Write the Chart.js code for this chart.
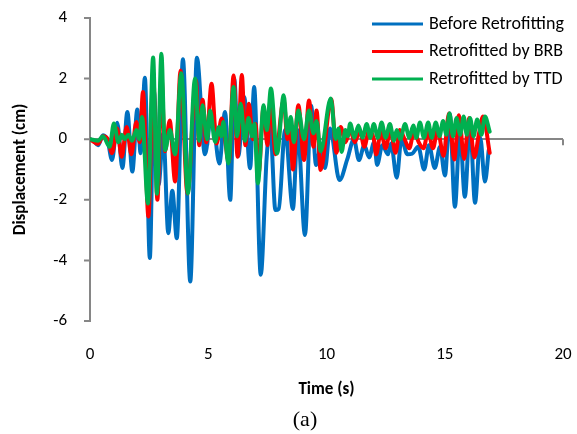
<!DOCTYPE html>
<html>
<head>
<meta charset="utf-8">
<script src="https://cdn.jsdelivr.net/npm/chart.js@4/dist/chart.umd.min.js"></script>
<style>
html,body{margin:0;padding:0;background:#ffffff;}
#c{display:block;}
</style>
</head>
<body>
<canvas id="c" width="577" height="434"></canvas>
<script>
// Time (s), displacement (cm) pairs
const beforeRetrofitting = [[0,0],[0.15,-0.05],[0.34,-0.2],[0.55,0.13],[0.75,-0.05],[0.93,-0.69],[1.15,0.54],[1.37,-0.95],[1.58,0.9],[1.79,-1.07],[2.0,0.98],[2.14,-0.46],[2.32,2.03],[2.53,-3.92],[2.7,1.6],[2.9,-1.5],[3.1,0.2],[3.31,-3.1],[3.48,-1.7],[3.67,-3.27],[3.93,2.64],[4.24,-4.7],[4.52,2.69],[4.86,-0.5],[5.15,0.9],[5.47,-0.8],[5.71,0.9],[5.93,-2.0],[6.1,2.0],[6.27,-0.55],[6.52,1.39],[6.77,-0.96],[6.94,1.72],[7.22,-4.47],[7.47,-0.6],[7.62,0.45],[7.84,-2.34],[7.98,-2.3],[8.25,0.3],[8.58,-2.3],[8.78,0.3],[9.09,-3.16],[9.35,1.1],[9.56,-0.85],[9.75,-0.3],[9.94,-0.95],[10.15,0.35],[10.55,-1.35],[10.88,-0.66],[11.16,0.0],[11.37,-0.69],[11.6,-0.2],[11.8,-0.6],[12.02,-0.09],[12.14,-0.85],[12.36,-0.2],[12.6,-0.5],[12.73,-0.14],[12.97,-1.27],[13.17,0.02],[13.42,-0.5],[13.62,-0.48],[13.88,-0.25],[14.13,-1.0],[14.33,-0.2],[14.58,-0.95],[14.8,-0.25],[15.01,-1.2],[15.21,0.85],[15.43,-2.23],[15.64,0.3],[15.85,-1.9],[16.07,0.52],[16.28,-2.1],[16.5,0.05],[16.7,-1.4],[16.86,-0.36]];

const retrofittedBRB = [[0,0],[0.34,-0.15],[0.55,0.1],[0.75,0.0],[0.93,-0.46],[1.15,0.35],[1.34,-0.58],[1.55,0.4],[1.75,-0.5],[1.96,0.57],[2.1,-0.1],[2.24,1.56],[2.47,-2.55],[2.67,2.2],[2.85,-2.0],[3.02,2.1],[3.17,-0.4],[3.37,0.62],[3.6,-1.4],[3.83,2.27],[4.12,-1.79],[4.48,1.94],[4.62,-0.2],[4.76,1.3],[4.92,-0.1],[5.14,1.83],[5.35,-0.14],[5.57,0.68],[5.87,-0.75],[6.07,2.1],[6.24,-0.58],[6.42,2.12],[6.57,-0.2],[6.72,1.17],[6.88,0.0],[7.0,0.5],[7.13,-1.13],[7.34,1.06],[7.5,-0.2],[7.63,1.3],[7.85,-0.5],[8.19,1.3],[8.35,0.0],[8.45,0.5],[8.58,-1.0],[8.81,1.12],[9.05,-0.69],[9.26,1.28],[9.45,-0.25],[9.58,0.95],[9.75,-1.02],[10.2,1.32],[10.42,-0.45],[10.6,0.4],[10.8,-0.1],[11.0,0.3],[11.2,-0.1],[11.4,0.3],[11.6,-0.25],[11.8,0.3],[12.0,0.0],[12.1,-0.5],[12.3,0.25],[12.5,-0.3],[12.7,0.3],[12.92,-0.45],[13.1,0.3],[13.3,0.0],[13.5,-0.3],[13.7,0.25],[13.9,-0.1],[14.1,-0.3],[14.3,0.25],[14.5,-0.3],[14.7,0.3],[14.95,-0.55],[15.18,0.85],[15.4,-0.67],[15.6,0.79],[15.82,-0.65],[16.03,0.7],[16.25,-0.6],[16.45,0.2],[16.62,0.75],[16.9,-0.45]];

const retrofittedTTD = [[0,0],[0.35,-0.05],[0.55,0.1],[0.83,-0.25],[1.01,0.52],[1.2,-0.1],[1.35,0.15],[1.47,0.0],[1.62,0.15],[1.78,-0.05],[1.96,0.3],[2.08,0.0],[2.2,0.73],[2.45,-2.12],[2.67,2.7],[2.83,-1.8],[3.02,2.82],[3.17,-0.36],[3.38,0.3],[3.6,-0.5],[3.86,2.18],[4.14,-1.79],[4.44,2.0],[4.62,-0.05],[4.76,1.12],[4.95,0.0],[5.08,0.95],[5.29,-0.09],[5.45,0.4],[5.55,0.1],[5.64,0.57],[5.85,-0.8],[6.07,1.72],[6.22,0.1],[6.37,1.17],[6.55,-0.05],[6.7,0.7],[6.85,0.1],[6.95,0.5],[7.1,-1.46],[7.34,1.12],[7.48,0.3],[7.65,1.67],[7.91,-0.47],[8.19,1.45],[8.35,0.2],[8.49,0.73],[8.62,-0.1],[8.81,0.95],[9.05,0.0],[9.26,0.95],[9.45,0.2],[9.58,0.6],[9.75,-0.4],[10.18,1.34],[10.39,0.0],[10.5,0.35],[10.64,-0.42],[10.8,0.3],[10.9,0.1],[11.0,0.52],[11.18,0.05],[11.35,0.45],[11.52,0.05],[11.7,0.5],[11.85,0.05],[12.0,0.5],[12.17,0.05],[12.33,0.55],[12.5,0.05],[12.68,0.5],[12.85,-0.05],[12.97,0.3],[13.12,0.0],[13.32,0.5],[13.5,0.05],[13.67,0.45],[13.8,0.05],[13.95,0.55],[14.12,0.05],[14.3,0.55],[14.45,0.05],[14.62,0.55],[14.78,0.1],[14.93,0.6],[15.07,0.15],[15.2,0.85],[15.35,0.1],[15.5,0.7],[15.65,0.15],[15.8,0.75],[15.93,0.15],[16.07,0.7],[16.22,0.1],[16.37,0.65],[16.55,0.15],[16.7,0.75],[16.9,0.25]];

const seriesLabels = ['Before Retrofitting', 'Retrofitted by BRB', 'Retrofitted by TTD'];
const seriesColors = ['#0070C0', '#FF0000', '#00B050'];
const xTicks = [0, 5, 10, 15, 20];
const yTicks = [-6, -4, -2, 0, 2, 4];
const xTitle = 'Time (s)';
const yTitle = 'Displacement (cm)';
const panelLabel = '(a)';

const FONT = 'Carlito, Calibri, Lato, sans-serif';
const AXIS_GRAY = '#868686';

const toPoints = arr => arr.map(p => ({x: p[0], y: p[1]}));

const insideLegend = {
  id: 'insideLegend',
  afterDraw(chart) {
    const ctx = chart.ctx;
    ctx.save();
    ctx.font = '18px ' + FONT;
    ctx.textBaseline = 'middle';
    ctx.textAlign = 'left';
    chart.data.datasets.forEach((ds, i) => {
      const y = 24 + i * 27.5;
      ctx.strokeStyle = ds.borderColor;
      ctx.lineWidth = 3;
      ctx.beginPath();
      ctx.moveTo(372, y);
      ctx.lineTo(423, y);
      ctx.stroke();
      ctx.fillStyle = '#000000';
      ctx.fillText(ds.label, 429, y);
    });
    ctx.font = '22px "Liberation Serif", "Times New Roman", serif';
    ctx.textAlign = 'center';
    ctx.fillText(panelLabel, 305, 420);
    ctx.restore();
  }
};

const axisTickMarks = {
  id: 'axisTickMarks',
  beforeDatasetsDraw(chart) {
    const ctx = chart.ctx;
    const xs = chart.scales.x, ys = chart.scales.y;
    const y0 = ys.getPixelForValue(0);
    const x0 = chart.chartArea.left;
    ctx.save();
    ctx.strokeStyle = AXIS_GRAY;
    ctx.lineWidth = 2;
    ctx.beginPath();
    xs.ticks.forEach(t => {
      const px = xs.getPixelForValue(t.value);
      ctx.moveTo(px, y0);
      ctx.lineTo(px, y0 + 6);
    });
    ys.ticks.forEach(t => {
      const py = ys.getPixelForValue(t.value);
      ctx.moveTo(x0 - 6, py);
      ctx.lineTo(x0, py);
    });
    ctx.stroke();
    ctx.restore();
  }
};

new Chart(document.getElementById('c'), {
  type: 'line',
  data: {
    datasets: [
      {label: seriesLabels[0], data: toPoints(beforeRetrofitting), borderColor: seriesColors[0], order: 3},
      {label: seriesLabels[1], data: toPoints(retrofittedBRB), borderColor: seriesColors[1], order: 2},
      {label: seriesLabels[2], data: toPoints(retrofittedTTD), borderColor: seriesColors[2], order: 1}
    ]
  },
  options: {
    responsive: false,
    animation: false,
    devicePixelRatio: 1,
    layout: {padding: {top: 18, right: 14, bottom: 0, left: 0}},
    elements: {
      point: {radius: 0, hoverRadius: 0},
      line: {borderWidth: 4, cubicInterpolationMode: 'monotone', fill: false, borderCapStyle: 'round', borderJoinStyle: 'round'}
    },
    plugins: {legend: {display: false}, tooltip: {enabled: false}},
    scales: {
      x: {
        type: 'linear',
        min: xTicks[0], max: xTicks[xTicks.length - 1],
        afterBuildTicks: s => { s.ticks = xTicks.map(v => ({value: v})); },
        afterFit: s => { s.height = 113; },
        grid: {display: false, drawTicks: true, tickLength: 21},
        border: {display: false},
        ticks: {padding: 3, color: '#000000', font: {family: FONT, size: 17}},
        title: {display: true, text: xTitle, color: '#000000', font: {family: FONT, size: 17, weight: 'bold'}, padding: {top: 0, bottom: 34}}
      },
      y: {
        type: 'linear',
        min: yTicks[0], max: yTicks[yTicks.length - 1],
        afterBuildTicks: s => { s.ticks = yTicks.map(v => ({value: v})); },
        afterFit: s => { s.width = 90; },
        grid: {
          display: true,
          drawOnChartArea: true,
          drawTicks: true,
          tickLength: 16,
          tickColor: 'rgba(0,0,0,0)',
          lineWidth: 2,
          color: c => (c.tick && c.tick.value === 0) ? AXIS_GRAY : 'rgba(0,0,0,0)'
        },
        border: {display: true, color: AXIS_GRAY, width: 2},
        ticks: {padding: 7, color: '#000000', font: {family: FONT, size: 17}},
        title: {display: true, text: yTitle, color: '#000000', font: {family: FONT, size: 17, weight: 'bold'}, padding: {top: 11, bottom: 0}}
      }
    }
  },
  plugins: [axisTickMarks, insideLegend]
});
</script>
</body>
</html>
